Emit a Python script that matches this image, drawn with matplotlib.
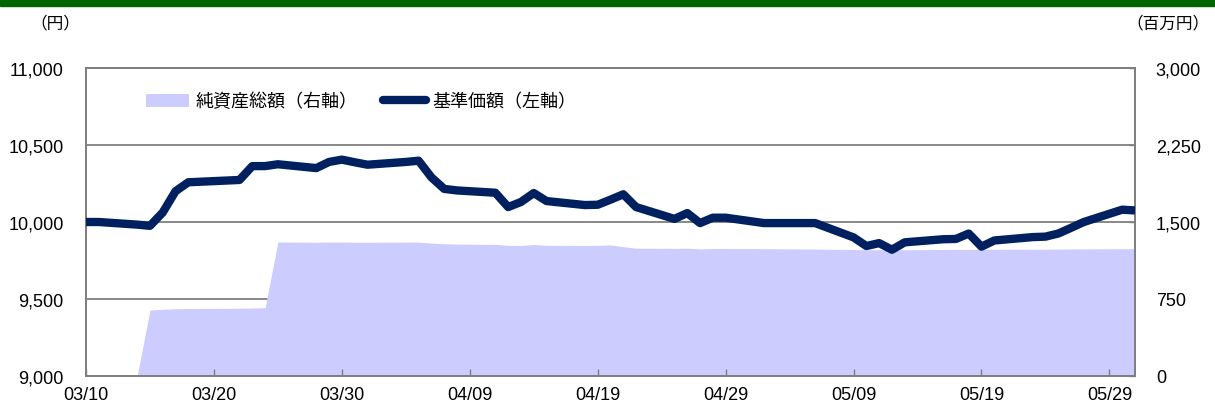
"""Fund NAV (基準価額) vs. net assets (純資産総額) chart, Mar-May 2022."""

import matplotlib
matplotlib.use("Agg")
import matplotlib.pyplot as plt
import matplotlib.dates as mdates
from matplotlib.lines import Line2D
from matplotlib.patches import Patch, Rectangle
from matplotlib.ticker import FuncFormatter
import pandas as pd

YEAR = 2022

dates = [
    "03/10", "03/11", "03/14", "03/15", "03/16", "03/17", "03/18", "03/22",
    "03/23", "03/24", "03/25", "03/28", "03/29", "03/30", "03/31", "04/01",
    "04/04", "04/05", "04/06", "04/07", "04/08", "04/11", "04/12", "04/13",
    "04/14", "04/15", "04/18", "04/19", "04/20", "04/21", "04/22", "04/25",
    "04/26", "04/27", "04/28", "04/29", "05/02", "05/06", "05/09", "05/10",
    "05/11", "05/12", "05/13", "05/16", "05/17", "05/18", "05/19", "05/20",
    "05/23", "05/24", "05/25", "05/26", "05/27", "05/30", "05/31",
]

# 基準価額 (円, left axis)
nav = [
    10000, 10000, 9983, 9975, 10062, 10200, 10258, 10273,
    10363, 10363, 10375, 10350, 10390, 10405, 10388, 10372,
    10390, 10398, 10290, 10215, 10205, 10190, 10097, 10130,
    10188, 10136, 10110, 10112, 10145, 10180, 10097, 10020,
    10058, 9993, 10028, 10028, 9993, 9993, 9900, 9844,
    9863, 9820, 9868, 9888, 9890, 9925, 9840, 9880,
    9902, 9905, 9925, 9962, 10000, 10080, 10075,
]

# 純資産総額 (百万円, right axis)
aum = [
    0, 0, 0, 643, 650, 655, 657, 660,
    662, 665, 1305, 1303, 1305, 1305, 1303, 1303,
    1304, 1304, 1295, 1288, 1285, 1282, 1272, 1272,
    1280, 1273, 1272, 1273, 1276, 1260, 1245, 1243,
    1245, 1238, 1242, 1242, 1240, 1236, 1232, 1230,
    1230, 1228, 1230, 1232, 1233, 1233, 1234, 1234,
    1235, 1235, 1236, 1237, 1238, 1240, 1240,
]

left_ticks = [9000, 9500, 10000, 10500, 11000]
right_ticks = [0, 750, 1500, 2250, 3000]
legend_labels = ["純資産総額（右軸）", "基準価額（左軸）"]

NAVY = "#002060"
LAVENDER = "#ccccff"
GRAY = "#7f7f7f"

plt.rcParams["font.family"] = ["Liberation Sans", "Noto Sans CJK JP"]

x = pd.to_datetime([f"{YEAR}/{d}" for d in dates], format="%Y/%m/%d")

W, H = 1215, 406
fig = plt.figure(figsize=(W / 100, H / 100), dpi=100)

# green strip at the very top
fig.patches.append(Rectangle((0, 1 - 7 / H), 1, 7 / H, transform=fig.transFigure,
                             color="#006400", zorder=0))

L, R, T, B = 86, 1135, 69, 377
rect = [L / W, 1 - B / H, (R - L) / W, (B - T) / H]
ax = fig.add_axes(rect)
ax2 = ax.twinx()

# area + gridlines live on the lower axes, line on the upper one
ax.set_zorder(ax2.get_zorder() + 1)
ax.patch.set_visible(False)

ax2.set_axisbelow(True)
ax2.fill_between(x, aum, color=LAVENDER, lw=0, zorder=1)
ax2.set_ylim(0, 3000)
ax2.set_yticks(right_ticks)
ax2.yaxis.set_major_formatter(FuncFormatter(lambda v, p: f"{v:,.0f}"))
ax2.yaxis.grid(True, color=GRAY, lw=1.3)
ax2.tick_params(axis="y", direction="in", length=4, width=1, color=GRAY,
                labelsize=13, pad=15)

ax.plot(x, nav, color=NAVY, lw=6, solid_joinstyle="round", solid_capstyle="butt",
        zorder=3)
ax.set_ylim(9000, 11000)
ax.set_yticks(left_ticks)
ax.yaxis.set_major_formatter(FuncFormatter(lambda v, p: f"{v:,.0f}"))
ax.tick_params(axis="y", length=0, labelsize=13, pad=16)

ax.set_xlim(pd.Timestamp(f"{YEAR}-03-10"), pd.Timestamp(f"{YEAR}-05-31"))
ax.set_xticks(pd.date_range(f"{YEAR}-03-10", periods=9, freq="10D"))
ax.xaxis.set_major_formatter(mdates.DateFormatter("%m/%d"))
ax.tick_params(axis="x", direction="in", length=5, width=1, color=GRAY,
               labelsize=13, pad=7)

for a in (ax, ax2):
    for s in a.spines.values():
        s.set_color(GRAY)
        s.set_linewidth(1.3)

handles = [
    Patch(facecolor=LAVENDER, edgecolor="none"),
    Line2D([0], [0], color=NAVY, lw=6, solid_capstyle="round"),
]
ax.legend(handles, legend_labels, loc="center left", bbox_to_anchor=(0.057, 0.89),
          ncol=2, frameon=False, fontsize=13, handlelength=2.4, handleheight=0.7,
          handletextpad=0.35, columnspacing=1.4, borderpad=0, borderaxespad=0)

fig.text(55 / W, 1 - 23 / H, "（円）", ha="center", va="center", fontsize=12)
fig.text(1209 / W, 1 - 23 / H, "（百万円）", ha="right", va="center", fontsize=12)

fig.savefig("out.png", dpi=100)
